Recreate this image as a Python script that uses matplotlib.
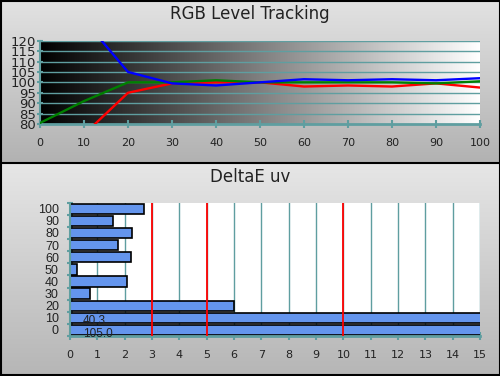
import numpy as np
import matplotlib
matplotlib.use("Agg")
import matplotlib.pyplot as plt
from matplotlib.patches import Rectangle
from matplotlib.lines import Line2D

# ---- data ----
levels = [0, 10, 20, 30, 40, 50, 60, 70, 80, 90, 100]
red = [60, 75, 95, 99.5, 100, 100, 98, 98.5, 98, 99.5, 97.5]
green = [80.5, 91, 100, 100, 101, 100, 100, 100, 100, 99.5, 100.5]
blue = [150, 130, 105, 99.5, 98.5, 100, 101.5, 101, 101.5, 101, 102]

de_labels = ["0", "10", "20", "30", "40", "50", "60", "70", "80", "90", "100"]
de_values = [105.0, 40.3, 6.01, 0.74, 2.10, 0.24, 2.22, 1.77, 2.26, 1.59, 2.72]
ref_lines = [3, 5, 10]

teal = "#5F9EA0"
txt = "#222222"
W, H = 500, 376

fig = plt.figure(figsize=(5, 3.76), dpi=100)

# background panels
bg = fig.add_axes([0, 0, 1, 1], zorder=-10)
bg.axis("off")
g1 = np.linspace(0, 1, 100).reshape(-1, 1)
top_cm = matplotlib.colors.LinearSegmentedColormap.from_list("t", ["#e2e2e2", "#b2b2b2"])
bot_cm = matplotlib.colors.LinearSegmentedColormap.from_list("b", ["#e6e6e6", "#b6b6b6"])
bg.imshow(g1, cmap=top_cm, extent=[0, W, 163, 0], aspect="auto")
bg.imshow(g1, cmap=bot_cm, extent=[0, W, H, 163], aspect="auto")
bg.add_line(Line2D([0, W], [163, 163], color="black", lw=1.5))
bg.add_patch(Rectangle((0.5, 0.5), W - 1, H - 1.5, fill=False, ec="black", lw=1.5))
bg.set_xlim(0, W); bg.set_ylim(H, 0)

fig.text(0.5, 1 - 14 / H, "RGB Level Tracking", ha="center", va="center", fontsize=12, color=txt)
fig.text(0.5, 1 - 177 / H, "DeltaE uv", ha="center", va="center", fontsize=12, color=txt)

xfont = {"family": "DejaVu Sans", "size": 8}
yfont_top = {"family": "DejaVu Sans", "size": 9.5}
yfont_bot = {"family": "Liberation Sans", "size": 9}

# ---- top axes ----
ax1 = fig.add_axes([40 / W, 1 - 124 / H, 440 / W, 83.3 / H])
grad = np.linspace(0, 1, 256).reshape(1, -1)
ax1.imshow(grad, cmap="gray", extent=[0, 100, 80, 120], aspect="auto", zorder=0)
ax1.set_xlim(0, 100); ax1.set_ylim(80, 120)
for y in range(85, 121, 5):
    ax1.axhline(y, color=teal, lw=1, zorder=1)
ax1.plot(levels, red, color="#ff0000", lw=1.7, zorder=3)
ax1.plot(levels, blue, color="#0000ff", lw=1.7, zorder=4)
ax1.plot(levels, green, color="#008000", lw=1.7, zorder=3)
ax1.set_xticks(levels)
ax1.set_yticks(range(80, 121, 5))
ax1.tick_params(axis="x", direction="inout", length=6, width=1.5, color=teal, pad=7, labelcolor=txt)
ax1.tick_params(axis="y", direction="inout", length=4, width=1.5, color=teal, pad=1, labelcolor=txt)
for lab in ax1.get_xticklabels():
    lab.set_fontproperties(xfont)
for lab in ax1.get_yticklabels():
    lab.set_fontproperties(yfont_top)
for s in ["top", "right"]:
    ax1.spines[s].set_visible(False)
ax1.spines["left"].set_color(teal); ax1.spines["left"].set_linewidth(1.5)
ax1.spines["bottom"].set_color(teal); ax1.spines["bottom"].set_linewidth(2)

# ---- bottom axes ----
ax2 = fig.add_axes([70 / W, 1 - 336 / H, 410 / W, 133.3 / H])
ax2.set_facecolor("white")
pos = np.arange(len(de_values))
ax2.set_xlim(0, 15); ax2.set_ylim(-0.5, len(de_values) - 0.5)
for x in range(1, 16):
    ax2.axvline(x, color=teal, lw=1, zorder=1)
ax2.barh(pos, de_values, height=0.85, color="#6495ED", edgecolor="black", lw=1.2, zorder=2)
for x in ref_lines:
    ax2.axvline(x, color="#ff0000", lw=1.3, zorder=4)
for p, v in zip(pos, de_values):
    if v > 15:
        ax2.text(0.47, p - 0.3, f"{v:.1f}", ha="left", va="center", fontsize=8.5,
                 family="Liberation Sans", color=txt, zorder=5)
ax2.set_xticks(range(0, 16))
ax2.set_yticks(pos)
ax2.set_yticklabels(de_labels)
ax2.set_yticks(np.arange(-0.5, len(de_values)), minor=True)
ax2.tick_params(axis="x", direction="inout", length=6, width=1.5, color=teal, pad=7, labelcolor=txt)
ax2.tick_params(axis="y", which="major", length=0, pad=8, labelcolor=txt)
ax2.tick_params(axis="y", which="minor", direction="inout", length=4, width=1.5, color=teal)
for lab in ax2.get_xticklabels():
    lab.set_fontproperties(xfont)
for lab in ax2.get_yticklabels():
    lab.set_fontproperties(yfont_bot)
for s in ["top", "right"]:
    ax2.spines[s].set_visible(False)
ax2.spines["left"].set_color(teal); ax2.spines["left"].set_linewidth(1.5)
ax2.spines["bottom"].set_color(teal); ax2.spines["bottom"].set_linewidth(2)

fig.savefig("out.png", dpi=100)
